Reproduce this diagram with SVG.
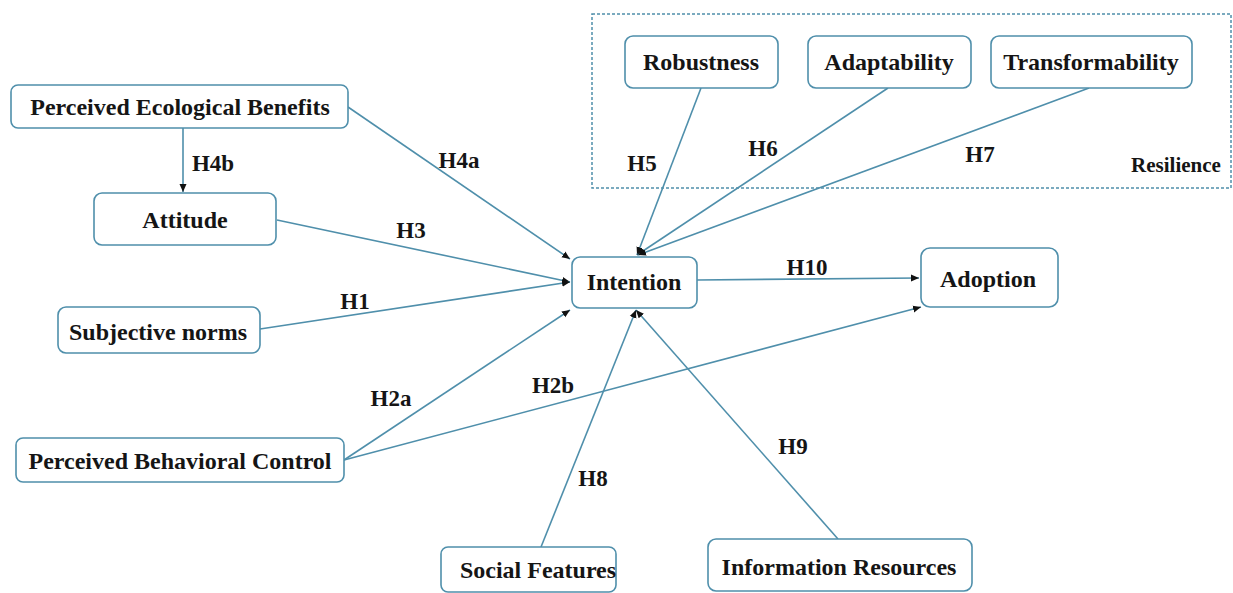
<svg xmlns="http://www.w3.org/2000/svg" width="1233" height="593" viewBox="0 0 1233 593">
<style>
.box{fill:#fff;stroke:#4f8fab;stroke-width:1.6}
.t{font-family:"Liberation Serif","Times New Roman",serif;font-weight:bold;font-size:24px;fill:#151515;text-anchor:middle}
.lbl{font-family:"Liberation Serif","Times New Roman",serif;font-weight:bold;font-size:23px;fill:#151515;text-anchor:middle}
.edge{stroke:#4f8fab;stroke-width:1.6;fill:none;marker-end:url(#arr)}
</style>
<defs>
<marker id="arr" markerUnits="userSpaceOnUse" markerWidth="10" markerHeight="8" refX="8" refY="4" orient="auto">
<path d="M0,0.5 L8,4 L0,7.5 Z" fill="#111"/>
</marker>
</defs>
<rect width="1233" height="593" fill="#fff"/>
<g id="resilience">
<rect x="592" y="14" width="639" height="174" fill="none" stroke="#4f8fab" stroke-width="1.5" stroke-dasharray="3 2"/>
<text class="t" x="1176" y="172" style="font-size:21px">Resilience</text>
</g>
<g id="connectors">
<line class="edge" x1="183" y1="128" x2="183" y2="192"/>
<line class="edge" x1="348" y1="107" x2="570" y2="259"/>
<line class="edge" x1="277" y1="220" x2="570" y2="282"/>
<line class="edge" x1="260" y1="329" x2="570" y2="282"/>
<line class="edge" x1="344" y1="460" x2="570" y2="310"/>
<line class="edge" x1="344" y1="460" x2="921" y2="307"/>
<line class="edge" x1="701" y1="88" x2="637" y2="255"/>
<line class="edge" x1="888" y1="88" x2="637" y2="255"/>
<line class="edge" x1="1089" y1="88" x2="638" y2="255"/>
<line class="edge" x1="697" y1="280" x2="919" y2="278"/>
<line class="edge" x1="541" y1="547" x2="636" y2="310"/>
<line class="edge" x1="838" y1="539" x2="636" y2="310"/>
<text class="lbl" x="213" y="171">H4b</text>
<text class="lbl" x="459" y="168">H4a</text>
<text class="lbl" x="411" y="238">H3</text>
<text class="lbl" x="355" y="309">H1</text>
<text class="lbl" x="391" y="406">H2a</text>
<text class="lbl" x="553" y="393">H2b</text>
<text class="lbl" x="642" y="171">H5</text>
<text class="lbl" x="763" y="156">H6</text>
<text class="lbl" x="980" y="162">H7</text>
<text class="lbl" x="807" y="275">H10</text>
<text class="lbl" x="793" y="454">H9</text>
<text class="lbl" x="593" y="486">H8</text>
</g>
<g id="peb"><rect class="box" x="11" y="85" width="337" height="43" rx="7"/><text class="t" x="180" y="115">Perceived Ecological Benefits</text></g>
<g id="attitude"><rect class="box" x="94" y="193" width="182" height="52" rx="8"/><text class="t" x="185" y="228">Attitude</text></g>
<g id="subjective"><rect class="box" x="58" y="307" width="202" height="46" rx="8"/><text class="t" x="158" y="340">Subjective norms</text></g>
<g id="pbc"><rect class="box" x="16" y="438" width="328" height="44" rx="7"/><text class="t" x="180" y="469">Perceived Behavioral Control</text></g>
<g id="intention"><rect class="box" x="572" y="257" width="125" height="51" rx="8"/><text class="t" x="634" y="290">Intention</text></g>
<g id="adoption"><rect class="box" x="921" y="248" width="137" height="59" rx="9"/><text class="t" x="988" y="287">Adoption</text></g>
<g id="robustness"><rect class="box" x="625" y="36" width="153" height="52" rx="8"/><text class="t" x="701" y="70">Robustness</text></g>
<g id="adaptability"><rect class="box" x="808" y="36" width="163" height="52" rx="8"/><text class="t" x="889" y="70">Adaptability</text></g>
<g id="transformability"><rect class="box" x="991" y="36" width="201" height="52" rx="8"/><text class="t" x="1091" y="70">Transformability</text></g>
<g id="social"><rect class="box" x="441" y="547" width="175" height="45" rx="7"/><text class="t" x="538" y="578">Social Features</text></g>
<g id="info"><rect class="box" x="708" y="539" width="264" height="52" rx="8"/><text class="t" x="839" y="575">Information Resources</text></g>
</svg>
